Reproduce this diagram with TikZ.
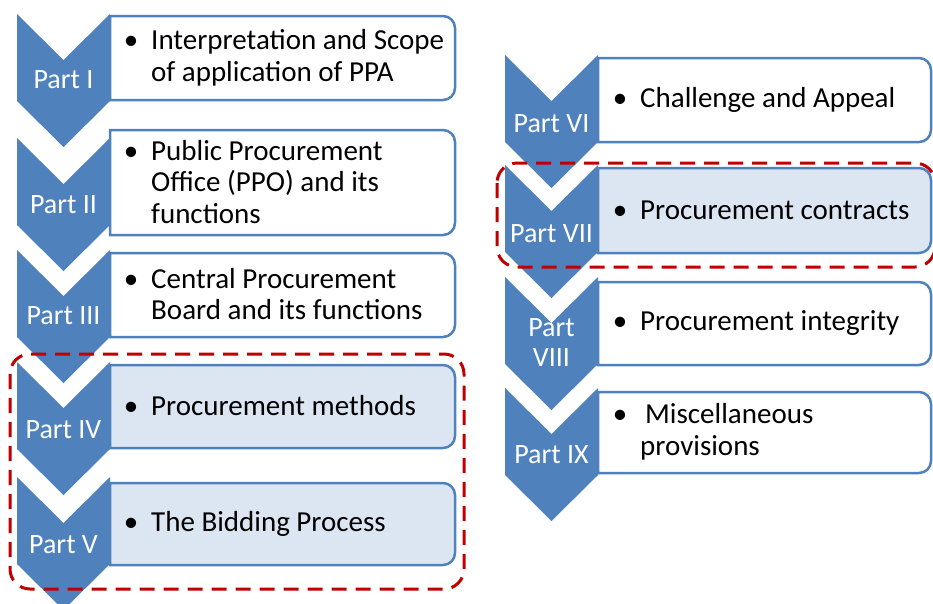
\documentclass[tikz,border=0pt]{standalone}
\usepackage{fontspec}
\setmainfont{Carlito}
\definecolor{chevblue}{RGB}{79,129,189}
\definecolor{paleblue}{RGB}{220,230,242}
\definecolor{groupred}{RGB}{192,0,0}
\newcommand{\bul}{\llap{\textbullet\hspace{13pt}}}

\begin{document}
\begin{tikzpicture}[x=1pt, y=-1pt,
    font=\fontsize{29}{31.5}\selectfont,
    box/.style={draw=chevblue, line width=2.5pt, fill=white},
    hibox/.style={box, fill=paleblue},
    chev/.style={fill=chevblue},
    part/.style={text=white, align=center, inner sep=0pt, font=\fontsize{28}{30}\selectfont},
    item/.style={anchor=west, align=left, inner sep=0pt},
    group/.style={draw=groupred, line width=3pt, dash pattern=on 15pt off 9pt, rounded corners=20pt}]
    \useasboundingbox (0,0) rectangle (933,603);
    \draw [box] (110,16) -- (300,16) [rounded corners=12pt] -- (455,16) -- (455,100) -- (300,100) [sharp corners] -- (110,100) -- cycle;
    \draw [box] (110,130) -- (300,130) [rounded corners=12pt] -- (455,130) -- (455,235) -- (300,235) [sharp corners] -- (110,235) -- cycle;
    \draw [box] (110,253) -- (300,253) [rounded corners=12pt] -- (455,253) -- (455,337) -- (300,337) [sharp corners] -- (110,337) -- cycle;
    \draw [hibox] (110,365) -- (300,365) [rounded corners=12pt] -- (455,365) -- (455,448) -- (300,448) [sharp corners] -- (110,448) -- cycle;
    \draw [hibox] (110,483) -- (300,483) [rounded corners=12pt] -- (455,483) -- (455,565) -- (300,565) [sharp corners] -- (110,565) -- cycle;
    \draw [box] (598,58) -- (800,58) [rounded corners=12pt] -- (931,58) -- (931,142) -- (800,142) [sharp corners] -- (598,142) -- cycle;
    \draw [hibox] (598,168) -- (800,168) [rounded corners=12pt] -- (931,168) -- (931,253) -- (800,253) [sharp corners] -- (598,253) -- cycle;
    \draw [box] (598,282) -- (800,282) [rounded corners=12pt] -- (931,282) -- (931,365) -- (800,365) [sharp corners] -- (598,365) -- cycle;
    \draw [box] (598,392) -- (800,392) [rounded corners=12pt] -- (931,392) -- (931,473) -- (800,473) [sharp corners] -- (598,473) -- cycle;
    \fill [chev] (17,14) -- (63.5,60) -- (110,14) -- (110,101) -- (63.5,147) -- (17,101) -- cycle;
    \fill [chev] (17,138) -- (63.5,184) -- (110,138) -- (110,225) -- (63.5,271) -- (17,225) -- cycle;
    \fill [chev] (17,250) -- (63.5,296) -- (110,250) -- (110,337) -- (63.5,383) -- (17,337) -- cycle;
    \fill [chev] (17,362) -- (63.5,408) -- (110,362) -- (110,449) -- (63.5,495) -- (17,449) -- cycle;
    \fill [chev] (17,477) -- (63.5,523) -- (110,477) -- (110,564) -- (63.5,610) -- (17,564) -- cycle;
    \fill [chev] (505,55) -- (551.5,101) -- (598,55) -- (598,142) -- (551.5,188) -- (505,142) -- cycle;
    \fill [chev] (505,165) -- (551.5,211) -- (598,165) -- (598,252) -- (551.5,298) -- (505,252) -- cycle;
    \fill [chev] (505,277) -- (551.5,323) -- (598,277) -- (598,364) -- (551.5,410) -- (505,364) -- cycle;
    \fill [chev] (505,388) -- (551.5,434) -- (598,388) -- (598,475) -- (551.5,521) -- (505,475) -- cycle;
    \node (p1) at (63.5,80) [part] {Part I};
    \node (p2) at (63.5,205) [part] {Part II};
    \node (p3) at (63.5,316) [part] {Part III};
    \node (p4) at (63.5,430) [part] {Part IV};
    \node (p5) at (63.5,545) [part] {Part V};
    \node (p6) at (551.5,124) [part] {Part VI};
    \node (p7) at (551.5,234) [part] {Part VII};
    \node (p8) at (551.5,343) [part] {Part\\VIII};
    \node (p9) at (551.5,455) [part] {Part IX};
    \node (t1) at (151,58) [item] {\bul Interpretation and Scope\\of application of PPA};
    \node (t2) at (151,182) [item] {\bul Public Procurement\\Office (PPO) and its\\functions};
    \node (t3) at (151,294) [item] {\bul Central Procurement\\Board and its functions};
    \node (t4) at (151,406) [item] {\bul Procurement methods};
    \node (t5) at (151,524) [item] {\bul The Bidding Process};
    \node (t6) at (640,100) [item] {\bul Challenge and Appeal};
    \node (t7) at (640,210) [item] {\bul Procurement contracts};
    \node (t8) at (640,323) [item] {\bul Procurement integrity};
    \node (t9) at (640,432) [item] {\bul\hspace{5pt}Miscellaneous\\provisions};
    \draw [group] (10,354) rectangle (464,589);
    \draw [group] (497,163) rectangle (935,267);
\end{tikzpicture}
\end{document}
